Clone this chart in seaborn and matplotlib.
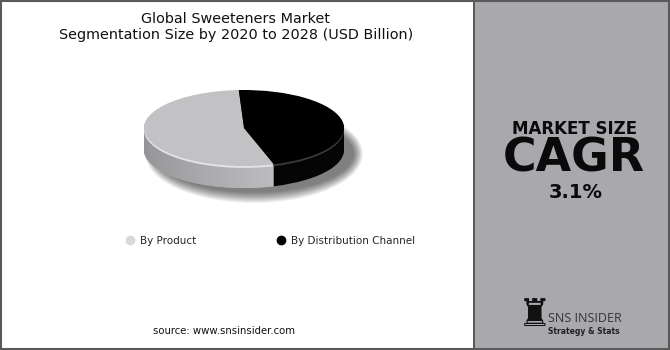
import numpy as np
import matplotlib
matplotlib.use("Agg")
import matplotlib.pyplot as plt
from matplotlib.patches import Rectangle, Ellipse
from matplotlib.lines import Line2D
from matplotlib.path import Path
from matplotlib.colors import to_rgb
import seaborn as sns

# ---- data ----
categories = ["By Product", "By Distribution Channel"]
shares = [54, 46]
top_colors = ["#c2c2c4", "#000000"]
side_colors = ["#a9a9ab", "#050505"]
legend_colors = ["#d9d9d9", "#000000"]
title_lines = ["Global Sweeteners Market", "Segmentation Size by 2020 to 2028 (USD Billion)"]
cagr_value = "3.1%"
source_text = "source: www.snsinsider.com"

sns.set_theme(style="white")
plt.rcParams["font.family"] = ["DejaVu Sans"]

W, H = 670, 350
fig = plt.figure(figsize=(W / 100, H / 100), dpi=100)
fig.patch.set_facecolor("white")

def fx(px):
    return px / W

def fy(py):
    return 1 - py / H

# right panel
fig.patches.append(Rectangle((fx(473), 0), fx(670 - 473), 1, transform=fig.transFigure,
                             facecolor="#a9a9ad", edgecolor="none", zorder=0))
fig.add_artist(Line2D([fx(473.5), fx(473.5)], [0, 1], transform=fig.transFigure, color="#4a4a4a", lw=1.2))
fig.patches.append(Rectangle((0.001, 0.002), 0.998, 0.996, transform=fig.transFigure,
                             facecolor="none", edgecolor="#5a5a5a", lw=1.5, zorder=5))

# title
fig.text(fx(236), fy(19), title_lines[0], ha="center", va="center", fontsize=10.4, color="#111111")
fig.text(fx(236), fy(35), title_lines[1], ha="center", va="center", fontsize=10.4, color="#111111")

# ---- 3D pie ----
ax = fig.add_axes([fx(124), fy(215), fx(240), 145 / H])
rx_px, ry_px = 100, 38
thick = 22 / ry_px
cy_px = 128
ylim_top = (cy_px - 70) / ry_px
ylim_bot = (215 - cy_px) / ry_px

# soft shadow
for i in range(20):
    s = 1 - i / 20
    ax.add_patch(Ellipse((0.1, -thick - 0.1), 1.98 + 0.2 * s, 2.0 + 0.6 * s,
                         facecolor="black", edgecolor="none", alpha=0.03, zorder=0))

# side layers
side_wedges = []
for d in np.linspace(thick, 0.02, 24):
    wedges, _ = ax.pie(shares, colors=side_colors, startangle=93, counterclock=True,
                       center=(0, -d), radius=1, wedgeprops=dict(linewidth=0, zorder=1))
    side_wedges.append(wedges[0])

# horizontal shading on the light slice's side
clip = Path.make_compound_path(*[w.get_path() for w in side_wedges])
c0, c1 = np.array(to_rgb("#949496")), np.array(to_rgb("#bdbdbf"))
t = np.linspace(0, 1, 200) ** 0.8
grad = (c0[None, :] * (1 - t[:, None]) + c1[None, :] * t[:, None])[None, :, :]
img = ax.imshow(grad, extent=(-1.0, 0.3, -thick - 1.0, 0.1), aspect="auto",
                interpolation="bilinear", zorder=1.5)
img.set_clip_path(clip, transform=ax.transData)

# thin highlight rim
ax.pie(shares, colors=["#e4e4e6", "#3a3a3a"], startangle=93, counterclock=True,
       center=(0, -0.05), radius=1, wedgeprops=dict(linewidth=0, zorder=2))
# top face
ax.pie(shares, colors=top_colors, startangle=93, counterclock=True,
       center=(0, 0), radius=1, wedgeprops=dict(linewidth=0, zorder=2.5))

ax.set_aspect("auto")
ax.set_xlim(-1.2, 1.2)
ax.set_ylim(-ylim_bot, ylim_top)
ax.axis("off")

# legend
handles = [Line2D([], [], marker="o", ls="", color=c, markersize=6) for c in legend_colors]
fig.legend(handles, categories, loc="center", bbox_to_anchor=(fx(270), fy(241)), ncol=2,
           frameon=False, fontsize=7.5, handletextpad=0.5, columnspacing=7.6, handlelength=1.0)

# source
fig.text(fx(224), fy(331), source_text, ha="center", va="center", fontsize=7.3, color="#111111")

# right panel texts
fig.text(fx(575), fy(134), "MARKET SIZE", ha="center", va="baseline", fontsize=12,
         fontweight="bold", color="#0a0a0a")
fig.text(fx(574), fy(172), "CAGR", ha="center", va="baseline", fontsize=33,
         fontweight="bold", color="#0a0a0a")
fig.text(fx(576), fy(198), cagr_value, ha="center", va="baseline", fontsize=14,
         fontweight="bold", color="#0a0a0a")

# logo
fig.text(fx(535), fy(316), "\u265C", ha="center", va="center", fontsize=27,
         family="DejaVu Sans", color="#111111")
fig.text(fx(548), fy(318), "SNS INSIDER", ha="left", va="center", fontsize=9,
         color="#333333", family="Open Sans")
fig.text(fx(548), fy(332), "Strategy & Stats", ha="left", va="center", fontsize=5.5,
         color="#222222", fontweight="bold")

fig.savefig("out.png", dpi=100, facecolor="white")
